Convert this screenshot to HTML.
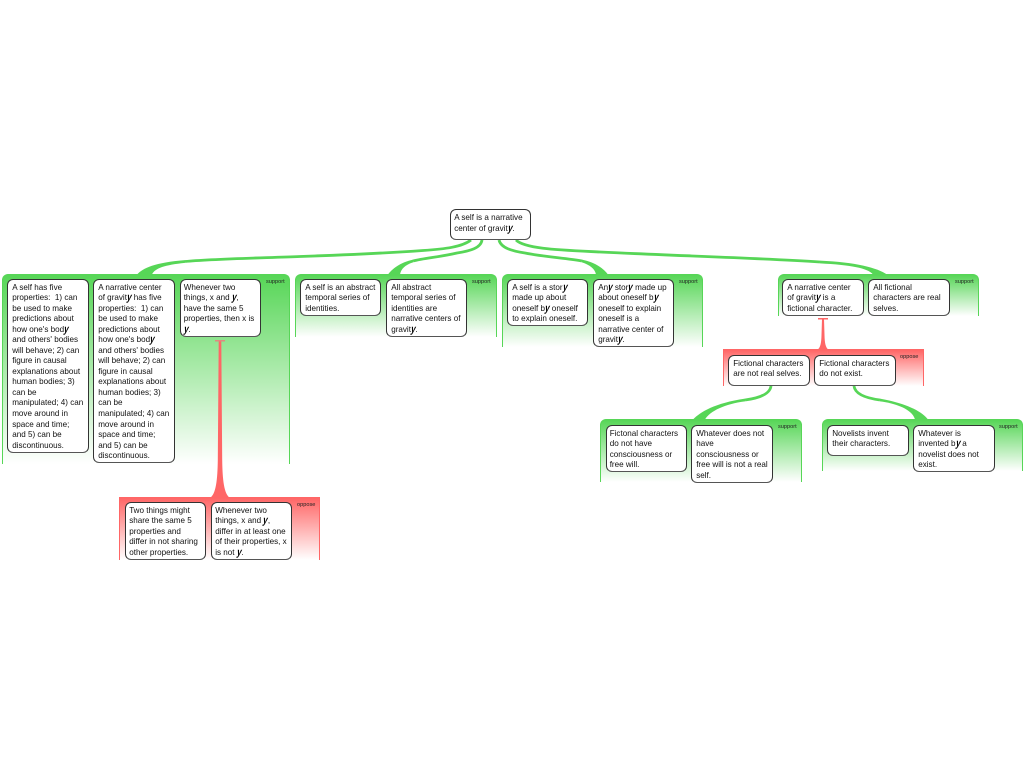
<!DOCTYPE html>
<html>
<head>
<meta charset="utf-8">
<style>
html,body{margin:0;padding:0;background:#fff;}
#p{position:relative;width:1024px;height:768px;overflow:hidden;background:#fff;font-family:"Liberation Sans",sans-serif;filter:blur(0.25px);}
.g{position:absolute;box-sizing:border-box;border-style:solid;border-width:1px 1px 0 1px;}
.s{border-color:#57d657;background:linear-gradient(#57d657,#ffffff);border-radius:6px 6px 0 0;}
.o{border-color:#ff6666;background:linear-gradient(#ff6666,#ffffff);}
.l{position:absolute;font-size:5.6px;line-height:7px;color:#222;}
.b{position:absolute;box-sizing:border-box;background:#fff;border:1px solid #333;border-bottom:1.5px solid #555;border-radius:6px;padding:2.6px 0 0 4.2px;font-size:8.1px;line-height:10.53px;color:#111;white-space:nowrap;}
.t{padding-left:3.2px;}
i{font-style:normal;font-weight:bold;display:inline-block;transform:scaleY(1.35) skewX(-18deg);color:#000;line-height:8px;}
svg{position:absolute;left:0;top:0;}
</style>
</head>
<body>
<div id="p">
<div class="g s" style="left:2px;top:274px;width:288px;height:190px"></div>
<div class="g s" style="left:295px;top:274px;width:202px;height:63px"></div>
<div class="g s" style="left:502px;top:274px;width:201px;height:73px"></div>
<div class="g s" style="left:778px;top:274px;width:201px;height:42px"></div>
<div class="g o" style="left:723px;top:349px;width:201px;height:37px"></div>
<div class="g s" style="left:600px;top:419px;width:202px;height:63px"></div>
<div class="g s" style="left:822px;top:419px;width:201px;height:52px"></div>
<div class="g o" style="left:119px;top:497px;width:201px;height:63px"></div>

<svg width="1024" height="768" viewBox="0 0 1024 768">
<g fill="none" stroke="#57d657" stroke-width="2.800">
<path d="M471 240C462 247 445 249 423 250.500C380 253.500 330 255.500 300 256.500C260 258 210 259 185 261.500"/>
<path d="M482 240C481 248 470 251 457 253C440 257 425 258 413 261"/>
<path d="M499 240C501 248 512 251 525 253C545 257 565 258 582 261"/>
<path d="M516 240C525 249 560 250 600 252C680 256 760 258 820 262"/>
<path d="M771 386C770 394 760 398 745 400"/>
<path d="M854 386C855 394 865 398 880 400"/>
</g>
<g fill="#57d657">
<path d="M137 274.500C143 268 155 262.500 185 260.100L185 262.900C165 265 155 268 152 274.500Z"/>
<path d="M388 274.500C392 269 400 262.500 413 259.600L413 262.400C405 265 401 269 400 274.500Z"/>
<path d="M608 274.500C604 269 596 262.500 582 259.600L582 262.400C590 265 595 269 596 274.500Z"/>
<path d="M887 274.500C878 268 855 262 820 260.600L820 263.400C850 265 868 268 873 274.500Z"/>
<path d="M693 419.500C700 412 715 403 745 398.600L745 401.400C725 404 710 411 705 419.500Z"/>
<path d="M928 419.500C922 411 905 403 880 398.600L880 401.400C900 404 913 411 915 419.500Z"/>
</g>
<g fill="#ff6666">
<path d="M210 498C216 494 217.500 480 217.800 460L218.700 341L221.300 341L222.200 460C222.500 480 224 494 230 498Z"/>
<path d="M817 350C820.500 348 821.300 343 821.500 335L822 319L824 319L824.500 335C824.700 343 825.500 348 829 350Z"/>
</g>
<rect x="215" y="340" width="10" height="1.500" fill="#e08a80"/>
<rect x="818" y="318" width="10" height="1.500" fill="#ff6666"/>
</svg>

<div class="l" style="left:266px;top:279px">support</div>
<div class="l" style="left:472px;top:279px">support</div>
<div class="l" style="left:679px;top:279px">support</div>
<div class="l" style="left:955px;top:279px">support</div>
<div class="l" style="left:900px;top:354px">oppose</div>
<div class="l" style="left:778px;top:424px">support</div>
<div class="l" style="left:999px;top:424px">support</div>
<div class="l" style="left:297px;top:502px">oppose</div>

<div class="b t" style="left:450px;top:209px;width:81px;height:31px;padding-top:3.400px">A self is a narrative<br>center of gravit<i>y</i>.</div>

<div class="b" style="left:7px;top:279px;width:82px;height:174px">A self has five<br>properties:&nbsp; 1) can<br>be used to make<br>predictions about<br>how one's bod<i>y</i><br>and others' bodies<br>will behave; 2) can<br>figure in causal<br>explanations about<br>human bodies; 3)<br>can be<br>manipulated; 4) can<br>move around in<br>space and time;<br>and 5) can be<br>discontinuous.</div>
<div class="b" style="left:93px;top:279px;width:82px;height:184px">A narrative center<br>of gravit<i>y</i> has five<br>properties:&nbsp; 1) can<br>be used to make<br>predictions about<br>how one's bod<i>y</i><br>and others' bodies<br>will behave; 2) can<br>figure in causal<br>explanations about<br>human bodies; 3)<br>can be<br>manipulated; 4) can<br>move around in<br>space and time;<br>and 5) can be<br>discontinuous.</div>
<div class="b t" style="left:179.500px;top:279px;width:81px;height:58px">Whenever two<br>things, x and <i>y</i>,<br>have the same 5<br>properties, then x is<br><i>y</i>.</div>

<div class="b" style="left:300px;top:279px;width:81px;height:37px">A self is an abstract<br>temporal series of<br>identities.</div>
<div class="b" style="left:386px;top:279px;width:81px;height:58px">All abstract<br>temporal series of<br>identities are<br>narrative centers of<br>gravit<i>y</i>.</div>

<div class="b" style="left:507px;top:279px;width:81px;height:47px">A self is a stor<i>y</i><br>made up about<br>oneself b<i>y</i> oneself<br>to explain oneself.</div>
<div class="b" style="left:593px;top:279px;width:81px;height:68px">An<i>y</i> stor<i>y</i> made up<br>about oneself b<i>y</i><br>oneself to explain<br>oneself is a<br>narrative center of<br>gravit<i>y</i>.</div>

<div class="b" style="left:782px;top:279px;width:82px;height:37px">A narrative center<br>of gravit<i>y</i> is a<br>fictional character.</div>
<div class="b" style="left:868px;top:279px;width:82px;height:37px">All fictional<br>characters are real<br>selves.</div>

<div class="b" style="left:728px;top:355px;width:82px;height:31px">Fictional characters<br>are not real selves.</div>
<div class="b" style="left:814px;top:355px;width:82px;height:31px">Fictional characters<br>do not exist.</div>

<div class="b t" style="left:605.500px;top:425px;width:81.500px;height:47px">Fictonal characters<br>do not have<br>consciousness or<br>free will.</div>
<div class="b" style="left:691px;top:425px;width:82px;height:58px">Whatever does not<br>have<br>consciousness or<br>free will is not a real<br>self.</div>

<div class="b" style="left:827px;top:425px;width:82px;height:31px">Novelists invent<br>their characters.</div>
<div class="b" style="left:913px;top:425px;width:82px;height:47px">Whatever is<br>invented b<i>y</i> a<br>novelist does not<br>exist.</div>

<div class="b t" style="left:125px;top:502px;width:81px;height:58px">Two things might<br>share the same 5<br>properties and<br>differ in not sharing<br>other properties.</div>
<div class="b t" style="left:211px;top:502px;width:81px;height:58px">Whenever two<br>things, x and <i>y</i>,<br>differ in at least one<br>of their properties, x<br>is not <i>y</i>.</div>
</div>
</body>
</html>
